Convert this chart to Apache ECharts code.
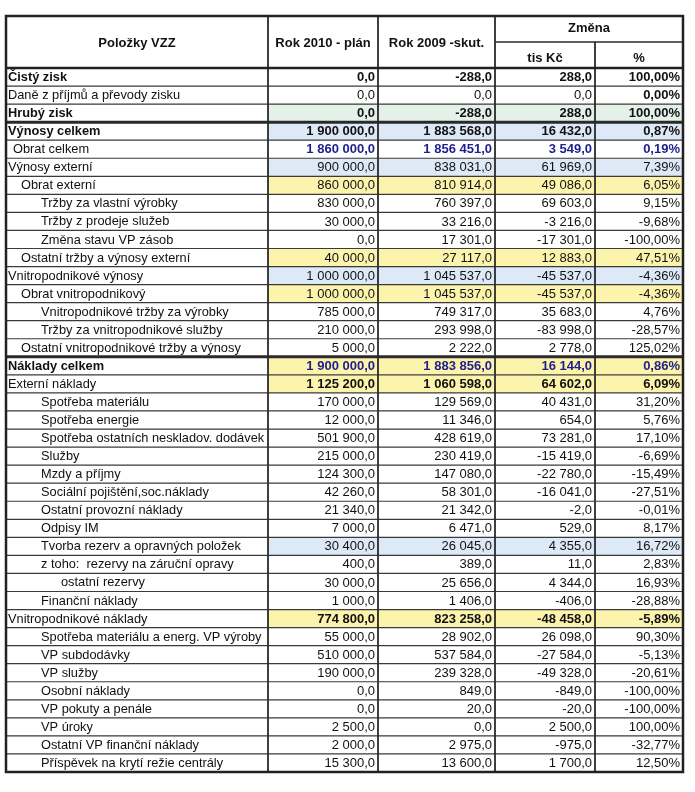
<!DOCTYPE html>
<html><head><meta charset="utf-8">
<script src="https://cdn.jsdelivr.net/npm/echarts@6/dist/echarts.min.js"></script>
<style>html,body{margin:0;padding:0;background:#fff}#c{width:695px;height:792px}</style>
</head><body><div id="c"></div>
<script>
const rowLabels = [
  "Čistý zisk","Daně z příjmů a převody zisku","Hrubý zisk","Výnosy celkem","Obrat celkem",
  "Výnosy externí","Obrat externí","Tržby za vlastní výrobky","Tržby z prodeje služeb","Změna stavu VP zásob",
  "Ostatní tržby a výnosy externí","Vnitropodnikové výnosy","Obrat vnitropodnikový","Vnitropodnikové tržby za výrobky","Tržby za vnitropodnikové služby",
  "Ostatní vnitropodnikové tržby a výnosy","Náklady celkem","Externí náklady","Spotřeba materiálu","Spotřeba energie",
  "Spotřeba ostatních neskladov. dodávek","Služby","Mzdy a příjmy","Sociální pojištění,soc.náklady","Ostatní provozní náklady",
  "Odpisy IM","Tvorba rezerv a opravných položek","z toho:  rezervy na záruční opravy","ostatní rezervy","Finanční náklady",
  "Vnitropodnikové náklady","Spotřeba materiálu a energ. VP výroby","VP subdodávky","VP služby","Osobní náklady",
  "VP pokuty a penále","VP úroky","Ostatní VP finanční náklady","Příspěvek na krytí režie centrály"
];
const plan2010 = [0,0,0,1900000,1860000,900000,860000,830000,30000,0,40000,1000000,1000000,785000,210000,5000,1900000,1125200,170000,12000,501900,215000,124300,42260,21340,7000,30400,400,30000,1000,774800,55000,510000,190000,0,0,2500,2000,15300];
const actual2009 = [-288,0,-288,1883568,1856451,838031,810914,760397,33216,17301,27117,1045537,1045537,749317,293998,2222,1883856,1060598,129569,11346,428619,230419,147080,58301,21342,6471,26045,389,25656,1406,823258,28902,537584,239328,849,20,0,2975,13600];
const changeTis = [288,0,288,16432,3549,61969,49086,69603,-3216,-17301,12883,-45537,-45537,35683,-83998,2778,16144,64602,40431,654,73281,-15419,-22780,-16041,-2,529,4355,11,4344,-406,-48458,26098,-27584,-49328,-849,-20,2500,-975,1700];
const changePct = [100.00,0.00,100.00,0.87,0.19,7.39,6.05,9.15,-9.68,-100.00,47.51,-4.36,-4.36,4.76,-28.57,125.02,0.86,6.09,31.20,5.76,17.10,-6.69,-15.49,-27.51,-0.01,8.17,16.72,2.83,16.93,-28.88,-5.89,90.30,-5.13,-20.61,-100.00,-100.00,100.00,-32.77,12.50];
const headerLabels = ["Položky VZZ","Rok 2010 - plán","Rok 2009 -skut.","Změna","tis Kč","%"];

// ---- styling (layout, not data) ----
const colEdges = [0, 262, 372, 489, 589, 677];
const indentPx = [2,2,2,2,7,2,15,35,35,35,15,2,15,35,35,15,2,2,35,35,35,35,35,35,35,35,35,35,55,35,2,35,35,35,35,35,35,35,35];
const labelBold = new Set([0,2,3,16]);
const numBold = new Set([0,2,3,4,16,17,30]);
const pctOnlyBold = new Set([1]);
const blueRows = new Set([4,16]);
const BLUE='#dde9f6', YEL='#fcf4ac', GRN='#e3f1e8';
const bgRows = {2:GRN,3:BLUE,5:BLUE,6:YEL,10:YEL,11:BLUE,12:YEL,16:YEL,17:YEL,26:BLUE,30:YEL};
const thickTop = new Set([3,16]);
const FONT = '"Liberation Sans", Arial, sans-serif';

function fmtNum(v){
  const neg = v < 0; const a = Math.abs(v);
  let s = a.toFixed(1); let [ip, dp] = s.split('.');
  ip = ip.replace(/\B(?=(\d{3})+(?!\d))/g, ' ');
  return (neg?'-':'') + ip + ',' + dp;
}
function fmtPct(v){ return v.toFixed(2).replace('.', ',') + '%'; }

const chart = echarts.init(document.getElementById('c'), null, {renderer:'canvas'});

function renderItem(params, api){
  const i = api.value(1);
  const c = api.coord([0, i]);
  const h = api.size([0, 1])[1];
  const yTop = c[1] - h/2, yBot = c[1] + h/2, yc = c[1];
  const xs = colEdges.map(v => api.coord([v, i])[0]);
  const ch = [];
  if (bgRows[i]) {
    ch.push({type:'rect', shape:{x:xs[1], y:yTop, width:xs[5]-xs[1], height:h}, style:{fill:bgRows[i]}, z2:0});
  }
  ch.push({type:'text', z2:5, style:{text: rowLabels[i], x: xs[0]+indentPx[i], y: yc+0.5, align:'left', verticalAlign:'middle',
    font: (labelBold.has(i)?'bold ':'') + '12.8px ' + FONT, fill:'#111'}});
  const vals = [fmtNum(plan2010[i]), fmtNum(actual2009[i]), fmtNum(changeTis[i]), fmtPct(changePct[i])];
  for (let k=0;k<4;k++){
    const bold = numBold.has(i) || (k===3 && pctOnlyBold.has(i));
    ch.push({type:'text', z2:5, style:{text: vals[k], x: xs[k+2]-3, y: yc+0.5, align:'right', verticalAlign:'middle',
      font: (bold?'bold ':'') + '13px ' + FONT, fill: blueRows.has(i)?'#1e1e8c':'#111'}});
  }
  ch.push({type:'line', z2:10, shape:{x1:xs[0], y1:yBot, x2:xs[5], y2:yBot}, style:{stroke:'#3a3a3a', lineWidth:1.2}});
  if (thickTop.has(i)) {
    ch.push({type:'line', z2:11, shape:{x1:xs[0], y1:yTop, x2:xs[5], y2:yTop}, style:{stroke:'#2a2a2a', lineWidth:3}});
  }
  for (let k=1;k<5;k++){
    ch.push({type:'line', z2:12, shape:{x1:xs[k], y1:yTop, x2:xs[k], y2:yBot}, style:{stroke:'#2a2a2a', lineWidth:1.8}});
  }
  if (i === 0) {
    const lastC = api.coord([0, rowLabels.length-1]);
    const tableBot = lastC[1] + h/2;
    const tTop = yTop - 52;
    const hf = 'bold 13px ' + FONT;
    const mid = (a,b)=> (a+b)/2;
    ch.push({type:'text', z2:5, style:{text:headerLabels[0], x:mid(xs[0],xs[1]), y:tTop+27, align:'center', verticalAlign:'middle', font:hf, fill:'#111'}});
    ch.push({type:'text', z2:5, style:{text:headerLabels[1], x:mid(xs[1],xs[2]), y:tTop+27, align:'center', verticalAlign:'middle', font:hf, fill:'#111'}});
    ch.push({type:'text', z2:5, style:{text:headerLabels[2], x:mid(xs[2],xs[3]), y:tTop+27, align:'center', verticalAlign:'middle', font:hf, fill:'#111'}});
    ch.push({type:'text', z2:5, style:{text:headerLabels[3], x:mid(xs[3],xs[5]), y:tTop+12, align:'center', verticalAlign:'middle', font:hf, fill:'#111'}});
    ch.push({type:'text', z2:5, style:{text:headerLabels[4], x:mid(xs[3],xs[4]), y:tTop+42, align:'center', verticalAlign:'middle', font:hf, fill:'#111'}});
    ch.push({type:'text', z2:5, style:{text:headerLabels[5], x:mid(xs[4],xs[5]), y:tTop+42, align:'center', verticalAlign:'middle', font:hf, fill:'#111'}});
    ch.push({type:'line', z2:10, shape:{x1:xs[3], y1:tTop+26, x2:xs[5], y2:tTop+26}, style:{stroke:'#2a2a2a', lineWidth:1.5}});
    for (let k=1;k<4;k++) ch.push({type:'line', z2:12, shape:{x1:xs[k], y1:tTop, x2:xs[k], y2:yTop}, style:{stroke:'#2a2a2a', lineWidth:1.8}});
    ch.push({type:'line', z2:12, shape:{x1:xs[4], y1:tTop+26, x2:xs[4], y2:yTop}, style:{stroke:'#2a2a2a', lineWidth:1.8}});
    ch.push({type:'line', z2:12, shape:{x1:xs[0], y1:yTop, x2:xs[5], y2:yTop}, style:{stroke:'#222', lineWidth:2.5}});
    ch.push({type:'rect', z2:20, shape:{x:xs[0], y:tTop, width:xs[5]-xs[0], height:tableBot-tTop}, style:{fill:'none', stroke:'#222', lineWidth:2.5}});
  }
  return {type:'group', children: ch};
}

chart.setOption({
  animation: false,
  backgroundColor: '#fff',
  grid: {left: 6, right: 12, top: 68, bottom: 20},
  xAxis: {type:'value', min:0, max:677, show:false},
  yAxis: {type:'category', inverse:true, data: rowLabels, show:false},
  series: [{
    type:'custom', clip:false, renderItem,
    data: rowLabels.map((_, i) => [0, i])
  }]
});
</script></body></html>
